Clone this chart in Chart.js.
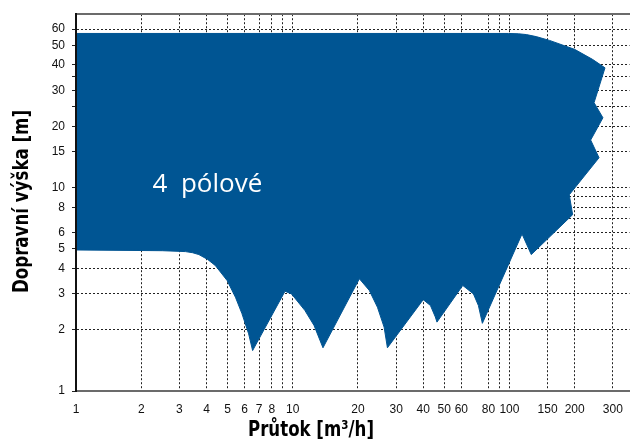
<!DOCTYPE html>
<html>
<head>
<meta charset="utf-8">
<script src="https://cdn.jsdelivr.net/npm/chart.js@4/dist/chart.umd.min.js"></script>
<style>
html,body{margin:0;padding:0;background:#fff;}
#wrap{width:634px;height:439px;position:relative;}
</style>
</head>
<body>
<div id="wrap"><canvas id="c"></canvas></div>
<script>
// Operating area outline (closed polygon): flow Q [m3/h] and head H [m]
const flowQ = [1, 99, 109.9, 119.6, 132.9, 152.9, 199.8, 241.6, 276,
  245.7, 270, 237, 259, 188.8, 195.7, 126.1, 114.3,
  75.0, 71.9, 68.2, 60.9, 46.3, 45.5, 43.2, 40.0,
  27.35, 26.4, 24.6, 22.56, 20.3, 13.79, 12.54, 11.37, 9.87, 9.21,
  6.53, 6.26, 5.83, 5.44, 4.98, 4.40, 4.05, 3.69, 3.45, 3.2, 2.5, 1];
const headH = [57.1, 57.1, 56.9, 56.4, 55.1, 52.8, 47.7, 42.6, 38.7,
  26.1, 22.0, 17.1, 14.0, 9.2, 7.35, 4.68, 5.91,
  2.15, 2.63, 3.00, 3.30, 2.18, 2.31, 2.63, 2.81,
  1.63, 2.06, 2.58, 3.12, 3.56, 1.63, 2.10, 2.49, 3.00, 3.09,
  1.58, 1.91, 2.40, 2.89, 3.49, 4.13, 4.43, 4.68, 4.78, 4.84, 4.89, 4.93];

const xGridValues = [1, 2, 3, 4, 5, 6, 7, 8, 9, 10, 20, 30, 40, 50, 60, 80, 90, 100, 150, 200, 300];
const xLabelValues = [1, 2, 3, 4, 5, 6, 7, 8, 10, 20, 30, 40, 50, 60, 80, 100, 150, 200, 300];
const yGridValues = [1, 2, 3, 4, 5, 6, 7, 8, 9, 10, 15, 20, 25, 30, 35, 40, 50, 60];
const yLabelValues = [1, 2, 3, 4, 5, 6, 8, 10, 15, 20, 30, 40, 50, 60];
const yTickMarkValues = [1, 2, 3, 4, 5, 6, 8, 10, 15, 20, 25, 30, 35, 40, 50, 60];

const xMin = 1, xMax = 358, yMin = 1, yMax = 71;
const xTitle = 'Průtok [m³/h]';
const yTitle = 'Dopravní výška [m]';
const areaLabel = '4  pólové';
const areaLabelQ = 4.04, areaLabelH = 9.45;

const BLUE = '#005593';
const CLEAR = 'rgba(0,0,0,0)';
const tickFont = {family: "'Liberation Sans', Arial, sans-serif", size: 12};
const titleFontCss = "bold 22px 'DejaVu Sans Condensed', 'DejaVu Sans', sans-serif";

const polygonFill = {
  id: 'polygonFill',
  beforeDatasetDraw(chart, args) {
    const ds = chart.data.datasets[args.index];
    const pts = args.meta.data;
    const ctx = chart.ctx;
    ctx.save();
    ctx.beginPath();
    pts.forEach((p, i) => i ? ctx.lineTo(p.x, p.y) : ctx.moveTo(p.x, p.y));
    ctx.closePath();
    ctx.fillStyle = ds.backgroundColor;
    ctx.fill();
    ctx.restore();
  }
};

const areaText = {
  id: 'areaText',
  afterDatasetsDraw(chart) {
    const {ctx, scales} = chart;
    ctx.save();
    ctx.font = "26px 'Open Sans', sans-serif";
    ctx.fillStyle = '#ffffff';
    ctx.textAlign = 'center';
    ctx.textBaseline = 'alphabetic';
    ctx.fillText(areaLabel, scales.x.getPixelForValue(areaLabelQ), scales.y.getPixelForValue(areaLabelH));
    ctx.restore();
  }
};

function drawCondensed(ctx, text, x, y, targetWidth, rot) {
  ctx.save();
  ctx.font = titleFontCss;
  const w = ctx.measureText(text).width;
  ctx.translate(x, y);
  ctx.rotate(rot);
  ctx.scale(targetWidth / w, 1);
  ctx.textAlign = 'center';
  ctx.textBaseline = 'alphabetic';
  ctx.fillStyle = '#000';
  ctx.fillText(text, 0, 0);
  ctx.restore();
}

const axisTitles = {
  id: 'axisTitles',
  afterDraw(chart) {
    drawCondensed(chart.ctx, xTitle, 311, 436, 126, 0);
    drawCondensed(chart.ctx, yTitle, 28, 201.5, 183, -Math.PI / 2);
  }
};

new Chart(document.getElementById('c'), {
  type: 'scatter',
  data: {
    datasets: [{
      data: flowQ.map((q, i) => ({x: q, y: headH[i]})),
      showLine: true,
      backgroundColor: BLUE,
      borderColor: BLUE,
      borderWidth: 1,
      pointRadius: 0,
      pointHoverRadius: 0,
      tension: 0,
      fill: false
    }]
  },
  options: {
    responsive: true,
    maintainAspectRatio: false,
    animation: false,
    layout: {padding: 0},
    plugins: {legend: {display: false}, tooltip: {enabled: false}},
    scales: {
      x: {
        type: 'logarithmic', position: 'bottom', min: xMin, max: xMax,
        afterBuildTicks: s => { s.ticks = xGridValues.map(v => ({value: v})); },
        afterFit: s => { s.height = 48; },
        ticks: {
          autoSkip: false, maxRotation: 0, minRotation: 0, padding: 11,
          color: '#111', font: tickFont,
          callback: v => xLabelValues.includes(v) ? String(v) : ''
        },
        grid: {
          color: c => (c.tick && c.tick.value === xMin) ? CLEAR : '#222',
          lineWidth: 1, drawTicks: false
        },
        border: {color: '#6b6b6b', width: 2, dash: [2, 2], z: 1}
      },
      xTop: {
        type: 'logarithmic', position: 'top', min: xMin, max: xMax,
        afterBuildTicks: s => { s.ticks = xGridValues.map(v => ({value: v})); },
        afterFit: s => { s.height = 13; },
        ticks: {display: false},
        grid: {drawOnChartArea: false, drawTicks: false},
        border: {color: '#6b6b6b', width: 2, z: 1}
      },
      y: {
        type: 'logarithmic', position: 'left', min: yMin, max: yMax,
        afterBuildTicks: s => { s.ticks = yGridValues.map(v => ({value: v})); },
        afterFit: s => { s.width = 76; },
        ticks: {
          autoSkip: false, padding: 7, color: '#111', font: tickFont,
          callback: v => yLabelValues.includes(v) ? String(v) : ''
        },
        grid: {
          color: c => (c.tick && c.tick.value === yMin) ? CLEAR : '#222',
          lineWidth: 1, drawTicks: true, tickLength: 4,
          tickColor: c => (c.tick && yTickMarkValues.includes(c.tick.value)) ? '#222' : CLEAR
        },
        border: {color: '#111', width: 2, dash: [2, 2], z: 1}
      }
    }
  },
  plugins: [polygonFill, areaText, axisTitles]
});
</script>
</body>
</html>
